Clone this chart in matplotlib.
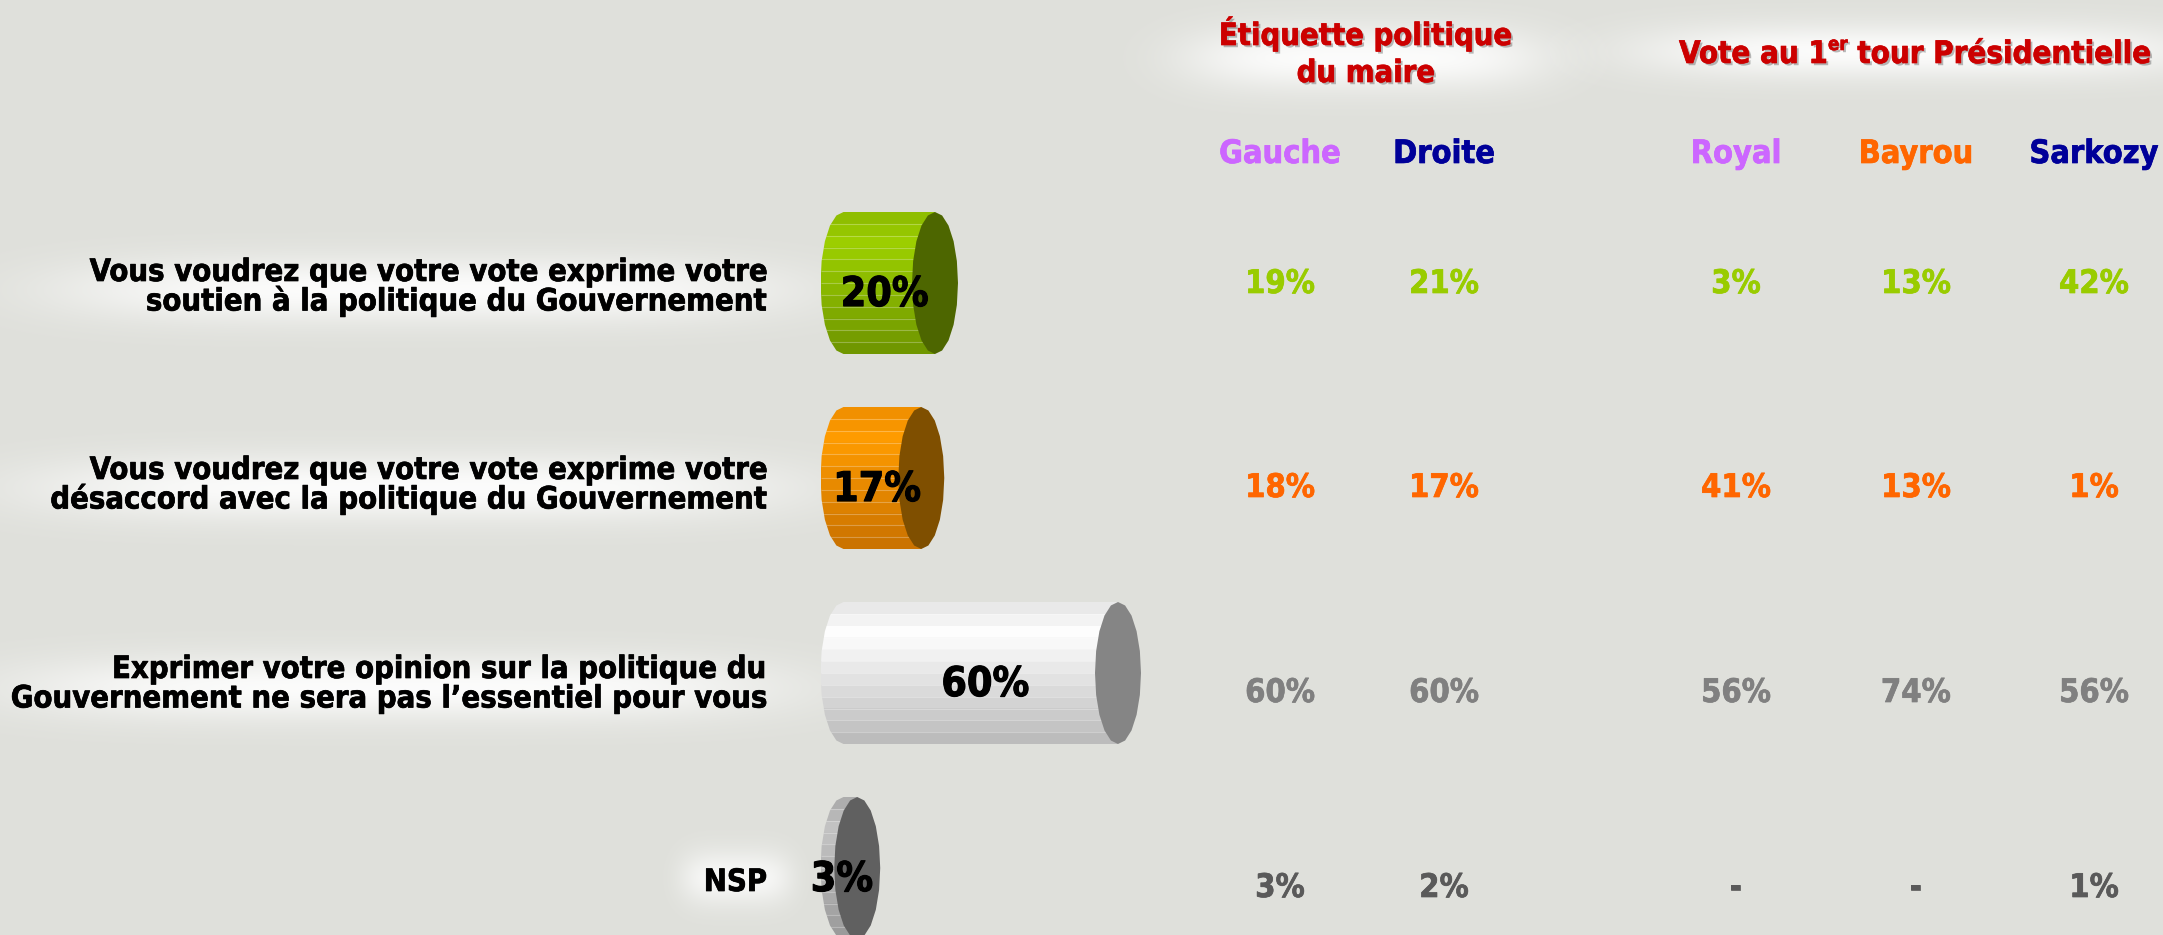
import glob
import os
import numpy as np
import matplotlib
matplotlib.use("Agg")
import matplotlib.pyplot as plt
from matplotlib import font_manager as fm
from matplotlib import patheffects as pe
from matplotlib.colors import to_rgb
from matplotlib.patches import Polygon

# ---- data ----
answers = [
    ["Vous voudrez que votre vote exprime votre", "soutien à la politique du Gouvernement"],
    ["Vous voudrez que votre vote exprime votre", "désaccord avec la politique du Gouvernement"],
    ["Exprimer votre opinion sur la politique du", "Gouvernement ne sera pas l’essentiel pour vous"],
    ["NSP"],
]
totals = [20, 17, 60, 3]

columns = ["Gauche", "Droite", "Royal", "Bayrou", "Sarkozy"]
gauche = [19, 18, 60, 3]
droite = [21, 17, 60, 2]
royal = [3, 41, 56, None]
bayrou = [13, 13, 74, None]
sarkozy = [42, 1, 56, 1]

title_maire = ["Étiquette politique", "du maire"]
title_vote = ["Vote au 1", "er", " tour Présidentielle"]

# ---- styles ----
BG = "#dfe0db"
RED = "#cc0000"
bar_styles = [  # top, highlight, bottom, cap
    ("#8cbb00", "#9dd000", "#6e9400", "#4d6600"),
    ("#ee8e00", "#ff9c00", "#c97100", "#7f4f00"),
    ("#e4e4e4", "#ffffff", "#b9b9b9", "#858585"),
    ("#a8a8a8", "#c4c4c4", "#999999", "#606060"),
]
row_colors = ["#99cc00", "#ff6600", "#808080", "#5a5a5a"]
col_colors = ["#cc66ff", "#000099", "#cc66ff", "#ff6600", "#000099"]

W, H = 2163, 935
X0_PX, PX_PER_PCT = 843.5, 4.575      # where 0 % sits, and scale
ROW0_PX, ROW_PX = 283, 195            # first cylinder centre, row pitch
CAP_HW, CAP_HH = 23 / PX_PER_PCT, 71 / ROW_PX

col_x = [1280, 1444, 1736, 1916, 2094]
value_base = [293, 497, 702, 897]
label_base = [281, 479, 678, 891]


def pick_font():
    files = glob.glob("/usr/share/fonts/**/*.ttf", recursive=True)
    files += [f.fname for f in fm.fontManager.ttflist]
    names = {os.path.basename(f): f for f in files}
    for want in ["DejaVuSansCondensed-Bold.ttf", "LiberationSansNarrow-Bold.ttf",
                 "RobotoCondensed-Bold.ttf", "DejaVuSans-Bold.ttf"]:
        if want in names:
            return fm.FontProperties(fname=names[want])
    return fm.FontProperties(family="DejaVu Sans", weight="bold")


base_font = pick_font()

fig = plt.figure(figsize=(W / 100, H / 100), dpi=100, facecolor=BG)
renderer = fig.canvas.get_renderer()


def font(size):
    p = base_font.copy()
    p.set_size(size)
    return p


def text_w(s, size):
    return renderer.get_text_width_height_descent(s, font(size), ismath=False)[0]


def fitted(s, target_px):
    return 20 * target_px / text_w(s, 20)


def heavy(color, lw=0.5):
    # a thin stroke of the same colour makes the glyphs look heavier
    return [pe.Stroke(linewidth=lw, foreground=color), pe.Normal()]


# background layer for the soft white glows
bg = fig.add_axes([0, 0, 1, 1], zorder=0)
bg.axis("off")


def glow(cx, cy, hw, hh, strength=0.9):
    x = np.linspace(-1.5, 1.5, 240)
    y = np.linspace(-1.8, 1.8, 80)
    X, Y = np.meshgrid(x, y)
    img = np.ones((len(y), len(x), 4))
    img[..., 3] = strength * np.exp(-np.abs(X) ** 4) * np.exp(-2.0 * Y ** 2)
    bg.imshow(img, extent=(cx - 1.5 * hw, cx + 1.5 * hw, cy + 1.8 * hh, cy - 1.8 * hh),
              aspect="auto", interpolation="bilinear")


glow(425, 290, 360, 45)
glow(410, 488, 375, 45)
glow(400, 688, 380, 45)
glow(736, 878, 55, 38, 0.8)
glow(1366, 58, 180, 45)
glow(1915, 52, 280, 38)
bg.set_xlim(0, W)
bg.set_ylim(H, 0)

# ---- cylinders ----
ax_l, ax_r, ax_t = 790, 1200, 180
ax = fig.add_axes([ax_l / W, 0, (ax_r - ax_l) / W, (H - ax_t) / H], zorder=1)
ax.axis("off")


def band_colors(top, hi, bot, n=12, t_hi=0.22):
    top, hi, bot = (np.array(to_rgb(c)) for c in (top, hi, bot))
    out = []
    for t in (np.arange(n) + 0.5) / n:
        if t < t_hi:
            out.append(top + (hi - top) * t / t_hi)
        else:
            out.append(hi + (bot - hi) * (t - t_hi) / (1 - t_hi))
    return np.array(out)[:, None, :]


def ellipse(cx, cy, th0, th1, n):
    th = np.linspace(th0, th1, n)
    return np.column_stack([cx + CAP_HW * np.cos(th), cy - CAP_HH * np.sin(th)])


bar_fs = fitted("20%", 88)
for r, (v, st) in enumerate(zip(totals, bar_styles)):
    top, hi, bot, cap = st
    body_pts = np.vstack([ellipse(0, r, np.pi / 2, 3 * np.pi / 2, 11),
                          [[v, r + CAP_HH], [v, r - CAP_HH]]])
    body = Polygon(body_pts, closed=True, facecolor="none", edgecolor="none")
    ax.add_patch(body)
    cols = band_colors(top, hi, bot)
    im = ax.imshow(cols, extent=(-CAP_HW, v, r + CAP_HH, r - CAP_HH),
                   aspect="auto", interpolation="nearest", origin="upper", zorder=2)
    im.set_clip_path(body)
    n = cols.shape[0]
    for k in range(1, n):
        yy = r - CAP_HH + 2 * CAP_HH * k / n
        ln = ax.hlines(yy, -CAP_HW, v, color="white", lw=0.8, alpha=0.28, zorder=3)
        ln.set_clip_path(body)
    ax.add_patch(Polygon(ellipse(v, r, 0, 2 * np.pi, 21), closed=True,
                         facecolor=cap, edgecolor="none", zorder=4))
    ax.text(0.55 * v - 2, r + 0.118, f"{v}%", ha="center", va="baseline",
            fontproperties=font(bar_fs), color="black", zorder=6,
            path_effects=heavy("black", 0.8))

ax.set_xlim((ax_l - X0_PX) / PX_PER_PCT, (ax_r - X0_PX) / PX_PER_PCT)
ax.set_ylim((H - ROW0_PX) / ROW_PX, (ax_t - ROW0_PX) / ROW_PX)

# ---- text layer ----
tx = fig.add_axes([0, 0, 1, 1], zorder=2)
tx.set_xlim(0, W)
tx.set_ylim(H, 0)
tx.axis("off")
tx.patch.set_alpha(0)

lab_fs = fitted(answers[2][1], 757)
for lines, y0 in zip(answers, label_base):
    for k, line in enumerate(lines):
        tx.text(767, y0 + 29.5 * k, line, ha="right", va="baseline",
                fontproperties=font(lab_fs), color="black", path_effects=heavy("black"))

# right-hand table
series = [gauche, droite, royal, bayrou, sarkozy]
hdr_fs = fitted("Gauche", 122)
val_fs = fitted("19%", 70)
for name, x, c, vals in zip(columns, col_x, col_colors, series):
    tx.text(x, 163, name, ha="center", va="baseline", fontproperties=font(hdr_fs),
            color=c, path_effects=heavy(c))
    for v, y, rc in zip(vals, value_base, row_colors):
        tx.text(x, y, "-" if v is None else f"{v}%", ha="center", va="baseline",
                fontproperties=font(val_fs), color=rc, path_effects=heavy(rc))

shadow = [pe.SimplePatchShadow(offset=(1.6, -1.6), shadow_rgbFace=(0.4, 0.4, 0.4), alpha=0.45),
          pe.Stroke(linewidth=0.5, foreground=RED), pe.Normal()]
t1_fs = fitted(title_maire[0], 294)
for k, line in enumerate(title_maire):
    tx.text(1366, 45 + 37 * k, line, ha="center", va="baseline",
            fontproperties=font(t1_fs), color=RED, path_effects=shadow)

# "Vote au 1er tour Présidentielle" with raised "er"
sup_ratio = 0.6
widths = [text_w(title_vote[0], 20), text_w(title_vote[1], 20 * sup_ratio), text_w(title_vote[2], 20)]
t2_fs = 20 * 473 / sum(widths)
x = 1679
for k, piece in enumerate(title_vote):
    fs = t2_fs * sup_ratio if k == 1 else t2_fs
    y = 63 - (0.42 * t2_fs * 100 / 72 if k == 1 else 0)
    tx.text(x, y, piece, ha="left", va="baseline", fontproperties=font(fs),
            color=RED, path_effects=shadow)
    x += text_w(piece, fs)

fig.savefig("out.png", dpi=100, facecolor=BG)
